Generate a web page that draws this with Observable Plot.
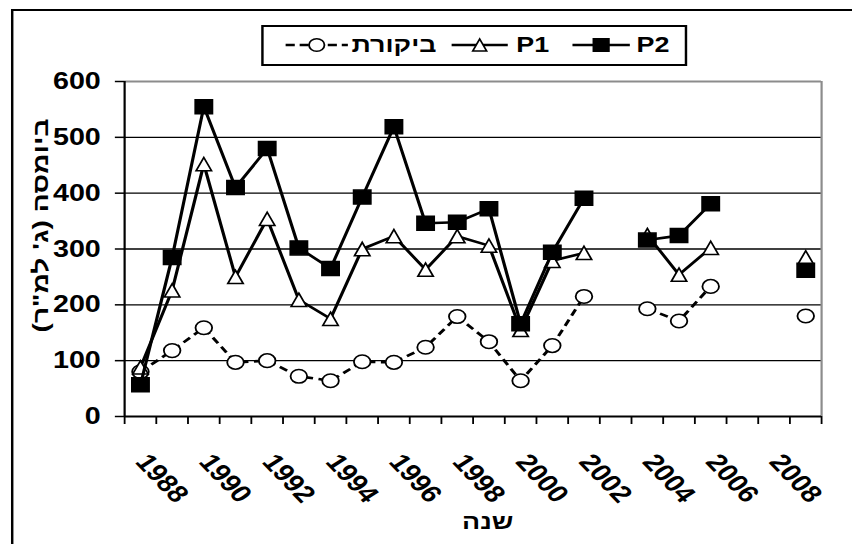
<!DOCTYPE html>
<html lang="he">
<head>
<meta charset="utf-8">
<script src="https://cdn.jsdelivr.net/npm/d3@7"></script>
<script src="https://cdn.jsdelivr.net/npm/@observablehq/plot@0.6"></script>
<style>
  html, body { margin: 0; padding: 0; background: #fff; overflow: hidden; }
  #page { position: relative; width: 852px; height: 544px; overflow: hidden; background: #fff; }
  /* the figure is laid out 698px wide, then widened to the 852px page */
  #chart { position: absolute; left: 0; top: 0; width: 698px; height: 544px;
           transform: scale(1.2206, 1); transform-origin: 0 0;
           font-family: "Liberation Sans", Arial, sans-serif; font-weight: bold; color: #000; }
  #frame { position: absolute; left: 9px; top: 9px; width: 760px; height: 620px;
           border: 2px solid #000; box-sizing: border-box; }
  #plot { position: absolute; left: 0; top: 0; }
  #legend { position: absolute; left: 214px; top: 25px; width: 349px; height: 41px;
            border: 2px solid #000; box-sizing: border-box; background: #fff; }
  #legend svg { position: absolute; top: 8px; overflow: visible; }
  #legend span { position: absolute; top: 6px; font-size: 22px; line-height: 24px; white-space: nowrap; }
</style>
</head>
<body>
<div id="page"><div id="chart"><div id="frame"></div><div id="plot"></div><div id="legend"></div></div></div>
<script>
// Biomass per year for the control plots and the two treatments (null = not sampled)
const years = [1988, 1989, 1990, 1991, 1992, 1993, 1994, 1995, 1996, 1997, 1998,
               1999, 2000, 2001, 2002, 2003, 2004, 2005, 2006, 2007, 2008, 2009];
const control = [80, 118, 159, 97, 100, 72, 64, 98, 97, 124, 179,
                 134, 64, 127, 215, null, 193, 171, 233, null, null, 180];
const p1 = [88, 226, 452, 250, 354, 209, 175, 300, 323, 263, 323,
            306, 155, 279, 293, null, 325, 254, 302, null, null, 285];
const p2 = [57, 285, 555, 410, 480, 302, 265, 393, 519, 346, 348,
            372, 166, 294, 391, null, 316, 324, 381, null, null, 262];

const seriesNames = ["ביקורת", "P1", "P2"];
const yTicks = [0, 100, 200, 300, 400, 500, 600];
const xLabelYears = [1988, 1990, 1992, 1994, 1996, 1998, 2000, 2002, 2004, 2006, 2008];
const yTitle = "ביומסה (ג' למ\"ר)\u200F";
const xTitle = "שנה";

const rows = years.map((year, i) => ({year, control: control[i], p1: p1[i], p2: p2[i]}));
const categoryEdges = d3.range(years[0] - 0.5, years[years.length - 1] + 1, 1);

// marker shapes, sized from the dot radius r
const circleSym = {draw(ctx, size) { const r = Math.sqrt(size / Math.PI); ctx.moveTo(r, 0); ctx.arc(0, 0, r, 0, 2 * Math.PI); }};
const squareSym = {draw(ctx, size) { const r = Math.sqrt(size / Math.PI);
  ctx.moveTo(-r, -r); ctx.lineTo(r, -r); ctx.lineTo(r, r); ctx.lineTo(-r, r); ctx.closePath(); }};
const triangleSym = {draw(ctx, size) { const r = Math.sqrt(size / Math.PI);
  ctx.moveTo(0, -0.95 * r); ctx.lineTo(0.9 * r, 0.95 * r); ctx.lineTo(-0.9 * r, 0.95 * r); ctx.closePath(); }};

const series = [
  {key: "control", name: seriesNames[0], symbol: circleSym, fill: "#fff", dash: "7,4.5", r: 6.8},
  {key: "p1", name: seriesNames[1], symbol: triangleSym, fill: "#fff", dash: null, r: 7},
  {key: "p2", name: seriesNames[2], symbol: squareSym, fill: "#000", dash: null, r: 7}
];

const seriesMarks = series.flatMap(s => [
  Plot.line(rows, {x: "year", y: s.key, stroke: "#000", strokeWidth: 2.6,
    strokeDasharray: s.dash, strokeLinecap: s.dash ? "butt" : "round", strokeLinejoin: "round"}),
  Plot.dot(rows, {x: "year", y: s.key, symbol: s.symbol, r: s.r, fill: s.fill,
    stroke: "#000", strokeWidth: 1.5})
]);

const chart = Plot.plot({
  width: 698,
  height: 544,
  marginLeft: 101.6,
  marginRight: 25.4,
  marginTop: 81,
  marginBottom: 128,
  x: {domain: [years[0] - 0.5, years[years.length - 1] + 0.5]},
  y: {domain: [0, 600]},
  style: "font-family: 'Liberation Sans', Arial, sans-serif; font-size: 23px; font-weight: bold; color: #000; background: transparent; overflow: visible;",
  marks: [
    Plot.gridY(yTicks.filter(v => v > 0 && v < 600), {stroke: "#000", strokeOpacity: 1, strokeWidth: 1.3}),
    Plot.ruleY([600], {stroke: "#8c8c8c", strokeWidth: 1.8}),
    Plot.ruleX([categoryEdges[categoryEdges.length - 1]], {stroke: "#8c8c8c", strokeWidth: 1.8}),
    Plot.ruleY([0], {stroke: "#000", strokeWidth: 1.8}),
    Plot.ruleX([categoryEdges[0]], {stroke: "#000", strokeWidth: 1.8}),
    Plot.axisY({ticks: yTicks, tickSize: 7.5, tickPadding: 12, tickFormat: d => String(d),
      fontSize: 23.5, strokeWidth: 1.5, label: null}),
    Plot.axisX({ticks: categoryEdges, tickSize: 8, tickFormat: () => "", strokeWidth: 1.5, label: null}),
    Plot.axisX({ticks: xLabelYears, tickSize: 0, tickRotate: 51.6, tickPadding: 41, dx: 1,
      tickFormat: d => String(d), fontSize: 24, label: null}),
    ...seriesMarks,
    Plot.text([yTitle], {frameAnchor: "left", text: d => d, rotate: -90, textAnchor: "middle",
      dx: -68.5, dy: -23.5, fontSize: 18}),
    Plot.text([xTitle], {frameAnchor: "bottom", text: d => d, textAnchor: "middle",
      dx: 12, dy: 112, fontSize: 22})
  ]
});
document.getElementById("plot").append(chart);

// stretch the vertical title along its length
d3.select(chart).selectAll("text")
  .filter(function () { return this.textContent.startsWith("ביומסה"); })
  .attr("textLength", 214).attr("lengthAdjust", "spacingAndGlyphs");

// legend: symbol to the left of each series name, P2 at the right
const legend = d3.select("#legend");
const keyLayout = [
  {sym: 17.5, symW: 51, text: 72},
  {sym: 154.3, symW: 46, text: 207},
  {sym: 252.6, symW: 47, text: 305.5}
];
series.forEach((s, i) => {
  const k = keyLayout[i];
  const svg = legend.append("svg").style("left", k.sym + "px").attr("width", k.symW).attr("height", 20);
  svg.append("line").attr("x1", 0).attr("x2", k.symW).attr("y1", 10).attr("y2", 10)
    .attr("stroke", "#000").attr("stroke-width", 2.6).attr("stroke-dasharray", s.dash ? "7.5,4" : null);
  const p = d3.path();
  s.symbol.draw(p, Math.PI * 6.3 * 6.3);
  svg.append("path").attr("d", p.toString()).attr("transform", `translate(${k.symW / 2},10)`)
    .attr("fill", s.fill).attr("stroke", "#000").attr("stroke-width", 1.5);
  legend.append("span").style("left", k.text + "px").text(s.name);
});
</script>
</body>
</html>
